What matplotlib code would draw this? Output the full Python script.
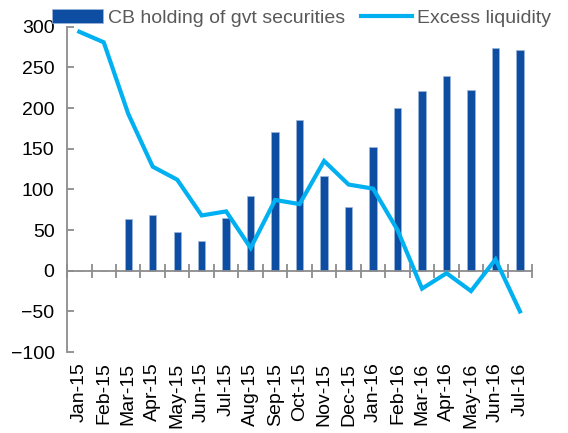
import matplotlib.pyplot as plt
import numpy as np

months = ["Jan-15", "Feb-15", "Mar-15", "Apr-15", "May-15", "Jun-15", "Jul-15",
          "Aug-15", "Sep-15", "Oct-15", "Nov-15", "Dec-15", "Jan-16", "Feb-16",
          "Mar-16", "Apr-16", "May-16", "Jun-16", "Jul-16"]
cb_holding = [0, 0, 64, 68, 48, 36, 65, 92, 171, 186, 116, 79, 152, 200,
              221, 239, 222, 274, 272]
excess_liq = [294, 281, 193, 128, 112, 68, 73, 28, 87, 82, 135, 106, 101, 50,
              -22, -3, -25, 14, -50]

plt.rcParams['font.family'] = ['Liberation Sans', 'DejaVu Sans']
fs = 14

fig = plt.figure(figsize=(5.68, 4.33), dpi=100)
ax = fig.add_axes([0.118, 0.187, 0.819, 0.751])

x = np.arange(len(months))
bars = ax.bar(x, cb_holding, width=0.3, color='#0D4EA2', edgecolor='#9DB6DA',
              linewidth=0.5, label='CB holding of gvt securities', zorder=2)
line, = ax.plot(x, excess_liq, color='#00B0F0', lw=3, label='Excess liquidity',
                zorder=3, solid_joinstyle='miter')

ax.set_xlim(-0.5, len(months) - 0.5)
ax.set_ylim(-100, 300)
ax.set_yticks(range(-100, 301, 50))

gray = '#8C8C8C'
for s in ['top', 'right']:
    ax.spines[s].set_visible(False)
ax.spines['left'].set_color(gray)
ax.spines['left'].set_linewidth(1.3)
ax.spines['bottom'].set_color(gray)
ax.spines['bottom'].set_linewidth(1.3)
ax.spines['bottom'].set_position(('data', 0))

# category boundary ticks on the zero line
ax.set_xticks(np.arange(-0.5, len(months), 1.0))
ax.set_xticklabels([])
ax.tick_params(axis='x', which='major', direction='inout', length=10,
               width=1.3, color=gray)
for xi, m in zip(x, months):
    ax.text(xi, -113, m, rotation=90, ha='center', va='top', fontsize=fs)

ax.tick_params(axis='y', direction='in', length=5, width=1.3, color=gray,
               labelsize=fs, pad=9)

fig.legend([bars, line], ['CB holding of gvt securities', 'Excess liquidity'],
           loc='upper left', bbox_to_anchor=(52 / 568, 1 - 9 / 433), ncol=2,
           frameon=False, fontsize=fs, handlelength=2.6, handletextpad=0.3,
           columnspacing=0.8, labelcolor='#595959', borderpad=0,
           borderaxespad=0)

fig.savefig('out.png', dpi=100)
